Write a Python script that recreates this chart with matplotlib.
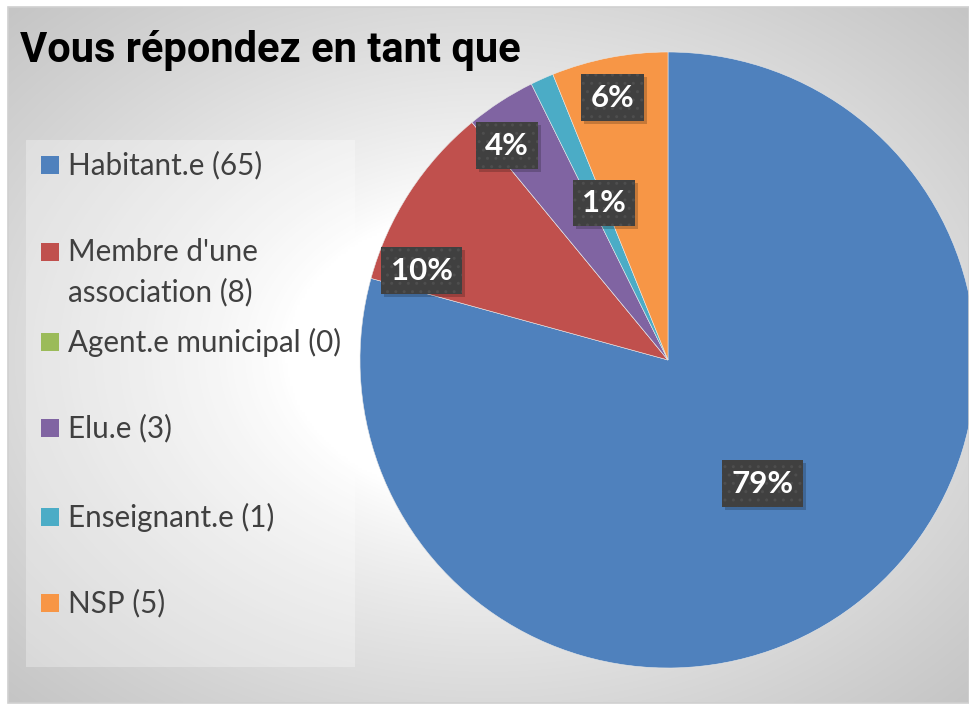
import numpy as np
import matplotlib
matplotlib.use("Agg")
import matplotlib.pyplot as plt
from matplotlib.patches import Rectangle
from matplotlib.transforms import IdentityTransform

# données
categories = ["Habitant.e", "Membre d'une\nassociation", "Agent.e municipal",
              "Elu.e", "Enseignant.e", "NSP"]
counts = [65, 8, 0, 3, 1, 5]
colors = ["#4F81BD", "#C0504D", "#9BBB59", "#8064A2", "#4BACC6", "#F79646"]
title = "Vous répondez en tant que"

W, H = 969, 704
fig = plt.figure(figsize=(W / 100, H / 100), dpi=100)
fig.patch.set_facecolor("white")

# fond en dégradé radial
x0, y0, x1, y1 = 8, 1, 969, 697   # zone du graphique (pixels, origine en bas)
bg = fig.add_axes([x0 / W, y0 / H, (x1 - x0) / W, (y1 - y0) / H])
gx, gy = np.meshgrid(np.linspace(-1, 1, 400), np.linspace(-1, 1, 300))
d = np.sqrt(gx ** 2 + gy ** 2) / np.sqrt(2)
v = 255 - 58 * np.clip((d - 0.3) / 0.7, 0, 1) ** 0.8
img = np.dstack([v, v, v]) / 255
bg.imshow(img, aspect="auto", extent=[0, 1, 0, 1], interpolation="bilinear")
bg.set_xlim(0, 1)
bg.set_ylim(0, 1)
bg.axis("off")
fig.patches.append(Rectangle((x0 / W, y0 / H), (x1 - x0) / W, (y1 - y0) / H,
                             transform=fig.transFigure, fill=False,
                             edgecolor="#d0d0d0", linewidth=1.2))

# titre
fig.text(20 / W, 1 - 62 / H, title, fontsize=30, fontweight="bold",
         family="Roboto", color="black", ha="left", va="baseline")

# camembert
cx, cy, r = 668, 360, 308
ax = fig.add_axes([(cx - r) / W, (H - cy - r) / H, 2 * r / W, 2 * r / H])
total = sum(counts)
wedges, _ = ax.pie(counts, colors=colors, startangle=90, counterclock=False,
                   radius=1, wedgeprops=dict(linewidth=0.4, edgecolor="#e8e8e8"))
ax.set_xlim(-1, 1)
ax.set_ylim(-1, 1)
ax.set_aspect("equal")
ax.axis("off")

# étiquettes de pourcentage
dist = [0.505, 0.85, 0, 0.87, 0.55, 0.87]
shift = [0, 13, 0, 4, -2, 1]
labels = []
for w, n, k, s in zip(wedges, counts, dist, shift):
    if n == 0:
        continue
    a = np.deg2rad((w.theta1 + w.theta2) / 2 + s)
    t = ax.text(k * np.cos(a), k * np.sin(a), f"{round(100 * n / total)}%",
                ha="center", va="center", fontsize=22.5, fontweight="bold",
                family="Lato", color="white", zorder=5,
                bbox=dict(boxstyle="square,pad=0.3", facecolor="#404040",
                          edgecolor="#4e4e4e", linewidth=0, hatch=".."))
    labels.append(t)

# ombres des étiquettes
fig.canvas.draw()
for t in labels:
    bb = t.get_bbox_patch().get_window_extent()
    ax.add_patch(Rectangle((bb.x0 + 3, bb.y0 - 3), bb.width, bb.height,
                           transform=IdentityTransform(), facecolor="black",
                           alpha=0.2, edgecolor="none", zorder=4))

# légende
lx0, ly0, lx1, ly1 = 26, 140, 355, 667
fig.patches.append(Rectangle((lx0 / W, 1 - ly1 / H), (lx1 - lx0) / W, (ly1 - ly0) / H,
                             transform=fig.transFigure, facecolor="white",
                             alpha=0.3, edgecolor="none"))
item_y = [165, 252, 342, 428, 517, 603]
for lab, n, c, yy in zip(categories, counts, colors, item_y):
    fig.patches.append(Rectangle((41 / W, 1 - (yy + 9) / H), 18 / W, 18 / H,
                                 transform=fig.transFigure, facecolor=c,
                                 edgecolor="none"))
    fig.text(68 / W, 1 - (yy - 14) / H, f"{lab} ({n})", fontsize=21.3,
             family="Lato", color="#404040", ha="left", va="top",
             linespacing=1.5)

fig.savefig("out.png", dpi=100)
